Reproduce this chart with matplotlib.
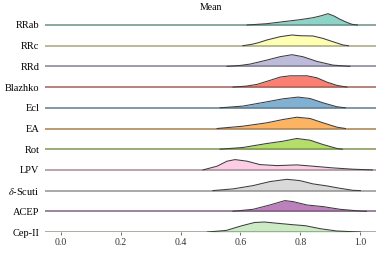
import matplotlib
matplotlib.use("Agg")
import matplotlib.pyplot as plt
import matplotlib.colors as mcolors
import numpy as np

plt.rcParams['font.family'] = ['Liberation Serif', 'DejaVu Serif']
plt.rcParams['mathtext.fontset'] = 'stix'

labels = ['RRab', 'RRc', 'RRd', 'Blazhko', 'Ecl', 'EA', 'Rot', 'LPV',
          r'$\delta$-Scuti', 'ACEP', 'Cep-II']
colors = ['#8dd3c7', '#ffffb3', '#bebada', '#fb8072', '#80b1d3', '#fdb462',
          '#b3de69', '#fccde5', '#d9d9d9', '#bc80bd', '#ccebc5']

# density (x = mean, y = density)
x_rrab = [0.622, 0.688, 0.742, 0.798, 0.842, 0.870, 0.892, 0.912, 0.932, 0.955, 0.972, 0.99]
y_rrab = [0.0, 1.3, 3.3, 5.3, 7.3, 9.3, 11.3, 9.0, 5.7, 2.6, 0.7, 0.0]

x_rrc = [0.608, 0.64, 0.66, 0.688, 0.732, 0.772, 0.798, 0.842, 0.875, 0.908, 0.942, 0.96]
y_rrc = [0.0, 1.5, 3.0, 5.7, 9.0, 10.7, 10.0, 9.7, 7.3, 4.0, 0.7, 0.0]

x_rrd = [0.555, 0.60, 0.632, 0.688, 0.732, 0.772, 0.808, 0.855, 0.908, 0.965]
y_rrd = [0.0, 1.0, 2.3, 6.3, 9.7, 11.7, 9.7, 5.0, 1.3, 0.0]

x_blz = [0.575, 0.62, 0.655, 0.698, 0.732, 0.765, 0.822, 0.855, 0.888, 0.922, 0.955]
y_blz = [0.0, 1.0, 2.7, 6.7, 10.0, 11.3, 11.3, 9.3, 5.0, 1.7, 0.0]

x_ecl = [0.532, 0.608, 0.688, 0.742, 0.792, 0.832, 0.875, 0.922, 0.95]
y_ecl = [0.0, 1.7, 6.0, 9.0, 10.7, 9.3, 5.0, 1.0, 0.0]

x_ea = [0.522, 0.608, 0.688, 0.742, 0.788, 0.832, 0.875, 0.922, 0.95]
y_ea = [0.0, 2.3, 5.7, 9.0, 11.3, 10.0, 5.7, 1.3, 0.0]

x_rot = [0.532, 0.608, 0.688, 0.742, 0.788, 0.832, 0.875, 0.922, 0.94]
y_rot = [0.0, 1.7, 5.7, 8.0, 10.7, 9.0, 4.7, 0.7, 0.0]

x_lpv = [0.475, 0.522, 0.555, 0.582, 0.622, 0.665, 0.722, 0.788, 0.842, 0.908, 0.975, 1.04]
y_lpv = [0.0, 3.7, 8.7, 10.3, 8.7, 5.3, 4.3, 5.0, 3.7, 2.0, 0.7, 0.0]

x_dsc = [0.508, 0.575, 0.642, 0.698, 0.755, 0.798, 0.842, 0.888, 0.932, 0.975, 1.0]
y_dsc = [0.0, 1.7, 5.0, 9.0, 11.3, 10.0, 6.7, 4.7, 2.3, 0.3, 0.0]

x_acep = [0.575, 0.642, 0.698, 0.748, 0.775, 0.822, 0.875, 0.932, 0.998, 1.02]
y_acep = [0.0, 2.0, 6.3, 10.7, 9.7, 6.3, 4.7, 2.0, 0.3, 0.0]

x_cep = [0.49, 0.553, 0.605, 0.647, 0.68, 0.72, 0.774, 0.816, 0.868, 0.921, 0.974, 1.0]
y_cep = [0.0, 1.6, 6.3, 9.5, 10.0, 8.8, 7.3, 6.3, 3.2, 1.0, 0.3, 0.0]

xs = [x_rrab, x_rrc, x_rrd, x_blz, x_ecl, x_ea, x_rot, x_lpv, x_dsc, x_acep, x_cep]
ys = [y_rrab, y_rrc, y_rrd, y_blz, y_ecl, y_ea, y_rot, y_lpv, y_dsc, y_acep, y_cep]

xmin, xmax = -0.052, 1.052
step = 20.7
dark = np.array(mcolors.to_rgb('#3c3c3c'))

fig = plt.figure(figsize=(3.82, 2.54), dpi=100)
ax = fig.add_axes([45 / 382, 22 / 254, 331 / 382, 221 / 254])

n = len(labels)
offsets = []
for i in range(n):
    off = (n - 1 - i) * step
    offsets.append(off)
    c = np.array(mcolors.to_rgb(colors[i]))
    base_col = 0.55 * c + 0.45 * dark
    ax.fill_between(xs[i], off, off + np.array(ys[i]), color=colors[i], lw=0,
                    zorder=i * 3)
    ax.plot([xmin, xmax], [off, off], color=base_col, lw=1.1, zorder=i * 3 + 1,
            solid_capstyle='butt')
    ax.plot(xs[i], off + np.array(ys[i]), color='#3c3c3c', lw=0.75,
            zorder=i * 3 + 2)

ax.set_xlim(xmin, xmax)
ax.set_ylim(0, (n - 1) * step + 14)
ax.set_yticks(offsets)
ax.set_yticklabels(labels, fontsize=7.5)
ax.tick_params(axis='y', length=0, pad=4)
ax.set_xticks([0.0, 0.2, 0.4, 0.6, 0.8, 1.0])
ax.set_xticklabels(['0.0', '0.2', '0.4', '0.6', '0.8', '1.0'], fontsize=7)
ax.tick_params(axis='x', length=2.5, width=0.6, color='#555555', pad=2,
               labelcolor='#333333')
for s in ax.spines.values():
    s.set_visible(False)

fig.text(210.5 / 382, 1 - 8 / 254, 'Mean', ha='center', va='center', fontsize=7)

fig.savefig('out.png', dpi=100)
